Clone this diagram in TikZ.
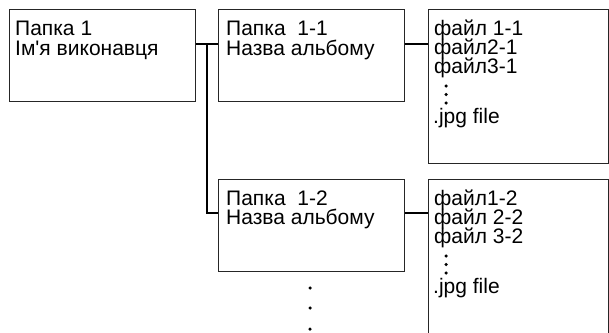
\documentclass[tikz,border=0pt]{standalone}
\usepackage{fontspec}
\setmainfont{Liberation Sans}[Ligatures=TeXOff]
\usetikzlibrary{calc}
\begin{document}
\begin{tikzpicture}[x=1pt,y=-1pt,
  box/.style={draw=black!85,line width=1pt,rectangle,inner sep=0pt,anchor=north west},
  conn/.style={draw=black,line width=1.7pt},
  txt/.style={anchor=base west,inner sep=0pt,font=\fontsize{21}{22}\selectfont},
  vdot/.style={fill=black,circle,inner sep=0pt,minimum size=3.5pt}]
\useasboundingbox (0,0) rectangle (609,332);
\clip (0,0) rectangle (609,332);
% boxes
\node[box,minimum width=186pt,minimum height=92pt] (b1) at (9,9) {};
\node[box,minimum width=186pt,minimum height=92pt] (b11) at (218,9) {};
\node[box,minimum width=186pt,minimum height=92pt] (b12) at (218,179) {};
\node[box,minimum width=180pt,minimum height=154pt] (f1) at (428,9) {};
\node[box,minimum width=180pt,minimum height=170pt] (f2) at (428,179) {};
% texts
\node[txt] (t1a) at (15,35) {Папка 1};
\node[txt] (t1b) at (15,55) {Ім'я виконавця};
\node[txt] (t2a) at (226,35) {Папка\ \ 1-1};
\node[txt] (t2b) at (226,55) {Назва альбому};
\node[txt] (t3a) at (226,205) {Папка\ \ 1-2};
\node[txt] (t3b) at (226,224) {Назва альбому};
\node[txt] (t4a) at (434,35) {файл 1-1};
\node[txt] (t4b) at (434,54) {файл2-1};
\node[txt] (t4c) at (434,73) {файл3-1};
\node[txt] (t4d) at (433,123) {.jpg file};
\node[txt] (t5a) at (434,205) {файл1-2};
\node[txt] (t5b) at (434,224) {файл 2-2};
\node[txt] (t5c) at (434,243) {файл 3-2};
\node[txt] (t5d) at (433,293) {.jpg file};
% dots
\foreach \yy [count=\i] in {86,94.5,103} {\node[vdot] (d1\i) at (446,\yy) {};}
\foreach \yy [count=\i] in {256,264.5,273} {\node[vdot] (d2\i) at (446,\yy) {};}
\foreach \yy [count=\i] in {288,308,329} {\node[vdot] (d3\i) at (310,\yy) {};}
% connectors
\coordinate (j1) at (207,44);
\coordinate (j2) at (207,213);
\draw[conn] (b1.east |- j1) -- (b11.west |- j1);
\draw[conn] (j1) -- (j2) -- (b12.west |- j2);
\draw[conn] (b11.east |- j1) -- (f1.west |- j1);
\draw[conn] (b12.east |- j2) -- (f2.west |- j2);
\end{tikzpicture}
\end{document}
